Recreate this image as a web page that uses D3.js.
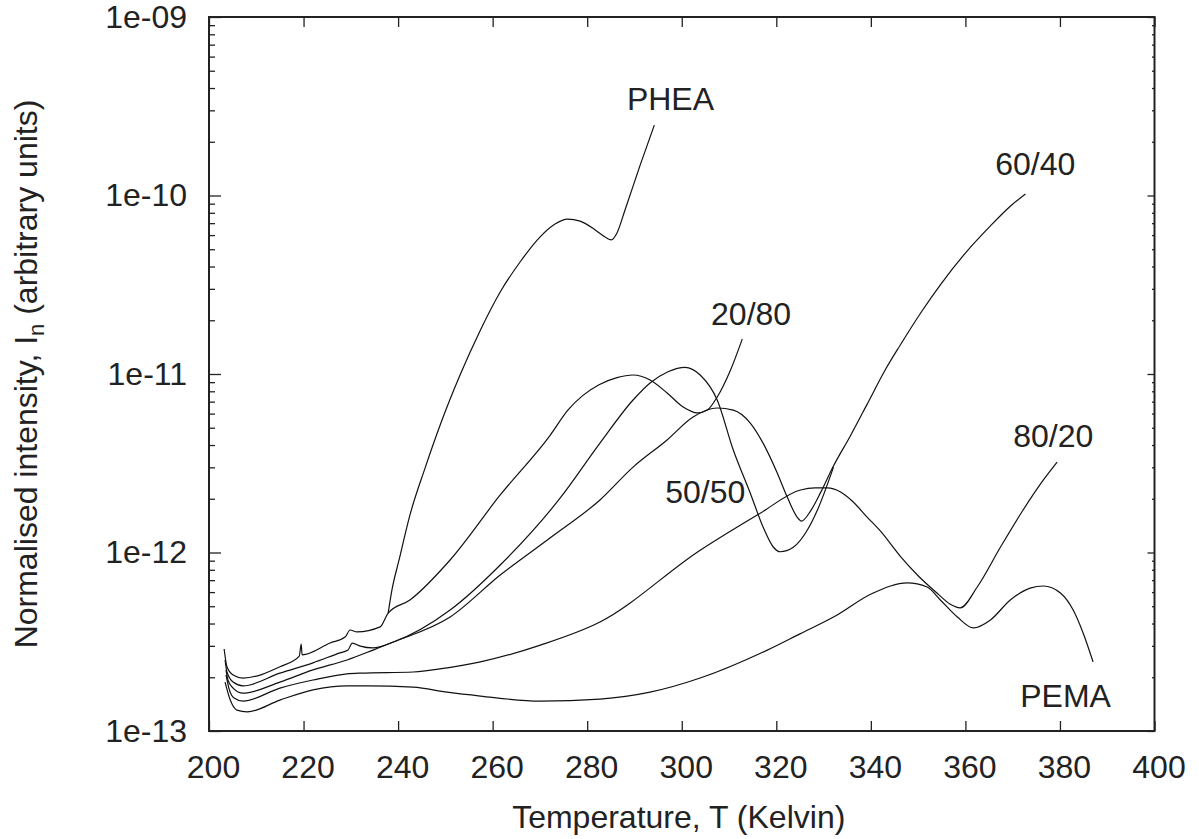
<!DOCTYPE html>
<html>
<head>
<meta charset="utf-8">
<script src="https://cdn.jsdelivr.net/npm/d3@7"></script>
<style>
  body { margin: 0; background: #fff; }
  text { font-family: "Liberation Sans", Arial, sans-serif; fill: #222; }
</style>
</head>
<body>
<svg id="chart" width="1199" height="839"></svg>
<script>
// temperature (K), normalised intensity
const pheaData = [[237.9,4.58e-13],[238.7,6.17e-13],[240.2,9.08e-13],[242.5,1.62e-12],[245.7,2.97e-12],
  [248.9,5.18e-12],[253.1,9.86e-12],[257.4,1.76e-11],[261.6,2.88e-11],[265.8,4.24e-11],[270.0,5.85e-11],
  [273.2,6.92e-11],[275.8,7.38e-11],[278.5,7.19e-11],[281.7,6.41e-11],[283.8,5.85e-11],[285.1,5.64e-11],
  [286.3,6.17e-11],[288.0,8.30e-11],[291.2,1.48e-10],[294.2,2.48e-10]];

const blend2080 = [[203.2,2.88e-13],[203.8,2.29e-13],[205.1,2.06e-13],[207.2,1.98e-13],[215.0,2.29e-13],
  [219.1,2.63e-13],[219.5,3.07e-13],[219.7,2.67e-13],[225.6,3.11e-13],[228.8,3.36e-13],[229.85,3.68e-13],
  [231.3,3.59e-13],[236.2,3.83e-13],[237.9,4.58e-13],[242.5,5.42e-13],[251.0,9.08e-13],[261.6,2.10e-12],
  [272.2,4.55e-12],[276.0,6.31e-12],[279.1,7.59e-12],[282.5,8.71e-12],[286.3,9.55e-12],[289.7,9.87e-12],
  [293.3,9.25e-12],[296.9,7.83e-12],[300.3,6.53e-12],[303.3,6.05e-12],[305.4,6.28e-12],[307.5,7.43e-12],
  [310.3,1.05e-11],[312.8,1.57e-11]];

const blend5050 = [[203.4,2.50e-13],[203.8,2.14e-13],[205.1,1.88e-13],[207.2,1.79e-13],[215.0,2.11e-13],
  [222.0,2.41e-13],[227.7,2.74e-13],[229.4,2.84e-13],[230.3,3.11e-13],[232.0,2.99e-13],[234.7,2.92e-13],
  [239.0,3.15e-13],[251.0,4.76e-13],[261.6,8.51e-13],[274.3,2.02e-12],[282.7,4.10e-12],[289.7,7.15e-12],
  [293.3,8.91e-12],[297.1,1.03e-11],[300.7,1.09e-11],[303.9,9.87e-12],[307.5,7.15e-12],[310.9,3.75e-12],
  [314.5,2.15e-12],[317.2,1.39e-12],[319.4,1.07e-12],[320.8,1.01e-12],[323.6,1.07e-12],[326.6,1.34e-12],
  [328.7,1.73e-12],[332.1,3.01e-12]];

const blend6040 = [[203.6,2.20e-13],[204.0,1.93e-13],[205.1,1.74e-13],[207.2,1.63e-13],[215.0,1.88e-13],
  [222.0,2.20e-13],[229.2,2.50e-13],[234.7,2.84e-13],[239.0,3.15e-13],[251.0,4.35e-13],[261.6,7.48e-13],
  [272.2,1.21e-12],[282.7,1.97e-12],[289.7,3.01e-12],[296.9,4.27e-12],[302.4,5.74e-12],[307.5,6.45e-12],
  [310.9,6.28e-12],[314.5,5.31e-12],[317.2,4.10e-12],[320.2,2.79e-12],[322.3,2.05e-12],[324.4,1.58e-12],
  [325.3,1.50e-12],[327.2,1.70e-12],[329.5,2.20e-12],[332.0,3.02e-12],[335.6,4.47e-12],[339.2,6.76e-12],
  [343.0,1.05e-11],[346.2,1.45e-11],[350.5,2.19e-11],[354.7,3.16e-11],[360.4,4.90e-11],[365.3,6.76e-11],
  [369.5,8.70e-11],[372.7,1.02e-10]];

const blend8020 = [[203.6,2.06e-13],[204.2,1.74e-13],[205.3,1.53e-13],[207.2,1.47e-13],[215.0,1.74e-13],
  [222.0,1.93e-13],[229.2,2.09e-13],[232.0,2.11e-13],[243.2,2.14e-13],[250.4,2.26e-13],[257.4,2.44e-13],
  [270.1,3.03e-13],[282.7,4.08e-13],[303.9,1.03e-12],[316.6,1.66e-12],[325.1,2.24e-12],[328.2,2.30e-12],
  [330.8,2.30e-12],[333.5,2.19e-12],[336.0,1.95e-12],[339.2,1.58e-12],[342.0,1.32e-12],[346.2,9.55e-13],
  [350.0,7.41e-13],[354.1,5.89e-13],[356.8,5.13e-13],[358.9,4.90e-13],[362.5,6.41e-13],[367.4,1.07e-12],
  [372.2,1.73e-12],[376.5,2.55e-12],[379.4,3.21e-12]];

const pemaData = [[203.4,1.88e-13],[204.5,1.49e-13],[205.9,1.31e-13],[208.1,1.28e-13],[215.0,1.49e-13],
  [222.0,1.70e-13],[229.2,1.79e-13],[233.5,1.79e-13],[243.2,1.76e-13],[250.4,1.65e-13],[257.4,1.57e-13],
  [270.1,1.47e-13],[282.7,1.51e-13],[293.3,1.65e-13],[303.9,1.98e-13],[318.1,2.84e-13],[325.0,3.50e-13],
  [332.1,4.35e-13],[340.5,5.93e-13],[347.7,6.75e-13],[351.9,6.41e-13],[354.7,5.42e-13],[358.3,4.35e-13],
  [361.7,3.78e-13],[365.3,4.19e-13],[369.5,5.42e-13],[373.7,6.32e-13],[376.5,6.49e-13],[380.1,5.93e-13],
  [382.8,4.76e-13],[384.9,3.54e-13],[387.0,2.44e-13]];

const allSeries = [pheaData, blend2080, blend5050, blend6040, blend8020, pemaData];

// curve labels: text, temperature, intensity at text baseline
const labelNames = ["PHEA", "20/80", "50/50", "60/40", "80/20", "PEMA"];
const labelT = [288.4, 306.2, 296.5, 366.3, 370.1, 371.6];
const labelI = [3.01e-10, 1.88e-11, 1.89e-12, 1.30e-10, 3.90e-12, 1.36e-13];

const xTicks = [200, 220, 240, 260, 280, 300, 320, 340, 360, 380, 400];
const yTicks = [1e-13, 1e-12, 1e-11, 1e-10, 1e-9];

var svg = d3.select("#chart");
var MARGINS = { top: 17, right: 44.5, bottom: 108, left: 209 };
var WIDTH = 1199 - MARGINS.left - MARGINS.right;
var HEIGHT = 839 - MARGINS.top - MARGINS.bottom;

var x = d3.scaleLinear().domain([200, 400]).range([MARGINS.left, MARGINS.left + WIDTH]);
var y = d3.scaleLog().domain([1e-13, 1e-9]).range([MARGINS.top + HEIGHT, MARGINS.top]);

var minorY = [];
for (let e = -13; e < -9; e++) {
  for (let m = 2; m <= 9; m++) minorY.push(m * Math.pow(10, e));
}
var fmtY = d => "1e-" + String(-Math.round(Math.log10(d))).padStart(2, "0");

function styleAxis(g) {
  g.select(".domain").remove();
  g.selectAll(".tick line").attr("stroke", "#222").attr("stroke-width", 1.3);
  g.selectAll(".tick text").attr("font-size", 32).attr("fill", "#222")
    .style("font-family", "'Liberation Sans', Arial, sans-serif");
}

// bottom axis with labels
svg.append("g").attr("transform", `translate(0,${MARGINS.top + HEIGHT})`)
  .call(d3.axisBottom(x).tickValues(xTicks).tickSize(-10).tickPadding(24).tickFormat(d3.format("d")))
  .call(styleAxis)
  .selectAll(".tick text").attr("dx", 4);

// top axis, ticks only
svg.append("g").attr("transform", `translate(0,${MARGINS.top})`)
  .call(d3.axisTop(x).tickValues(xTicks).tickSize(-10).tickFormat(""))
  .call(styleAxis);

// left axis
svg.append("g").attr("transform", `translate(${MARGINS.left},0)`)
  .call(d3.axisLeft(y).tickValues(yTicks).tickSize(-12).tickPadding(22).tickFormat(fmtY))
  .call(styleAxis);
svg.append("g").attr("transform", `translate(${MARGINS.left},0)`)
  .call(d3.axisLeft(y).tickValues(minorY).tickSize(-6).tickFormat(""))
  .call(styleAxis);

// right axis
svg.append("g").attr("transform", `translate(${MARGINS.left + WIDTH},0)`)
  .call(d3.axisRight(y).tickValues(yTicks).tickSize(-7).tickFormat(""))
  .call(styleAxis);
svg.append("g").attr("transform", `translate(${MARGINS.left + WIDTH},0)`)
  .call(d3.axisRight(y).tickValues(minorY).tickSize(-2.5).tickFormat(""))
  .call(styleAxis);

// frame
svg.append("rect")
  .attr("x", MARGINS.left).attr("y", MARGINS.top)
  .attr("width", WIDTH).attr("height", HEIGHT)
  .attr("fill", "none").attr("stroke", "#222").attr("stroke-width", 2);

var line = d3.line()
  .x(d => x(d[0]))
  .y(d => y(d[1]))
  .curve(d3.curveMonotoneX);

allSeries.forEach(s => {
  svg.append("path")
    .datum(s)
    .attr("d", line)
    .attr("fill", "none")
    .attr("stroke", "#111")
    .attr("stroke-width", 1.2);
});

labelNames.forEach((name, i) => {
  svg.append("text")
    .attr("x", x(labelT[i]))
    .attr("y", y(labelI[i]))
    .attr("font-size", 32)
    .text(name);
});

// axis titles
svg.append("text")
  .attr("x", MARGINS.left + WIDTH / 2 - 3)
  .attr("y", 828)
  .attr("text-anchor", "middle")
  .attr("font-size", 32)
  .text("Temperature, T (Kelvin)");

var yt = svg.append("text")
  .attr("transform", `translate(37,${MARGINS.top + HEIGHT / 2}) rotate(-90)`)
  .attr("text-anchor", "middle")
  .attr("font-size", 32);
yt.append("tspan").text("Normalised intensity, I");
yt.append("tspan").attr("font-size", 22).attr("dy", "0.3em").text("n");
yt.append("tspan").attr("dy", "-0.2em").text(" (arbitrary units)");
</script>
</body>
</html>
